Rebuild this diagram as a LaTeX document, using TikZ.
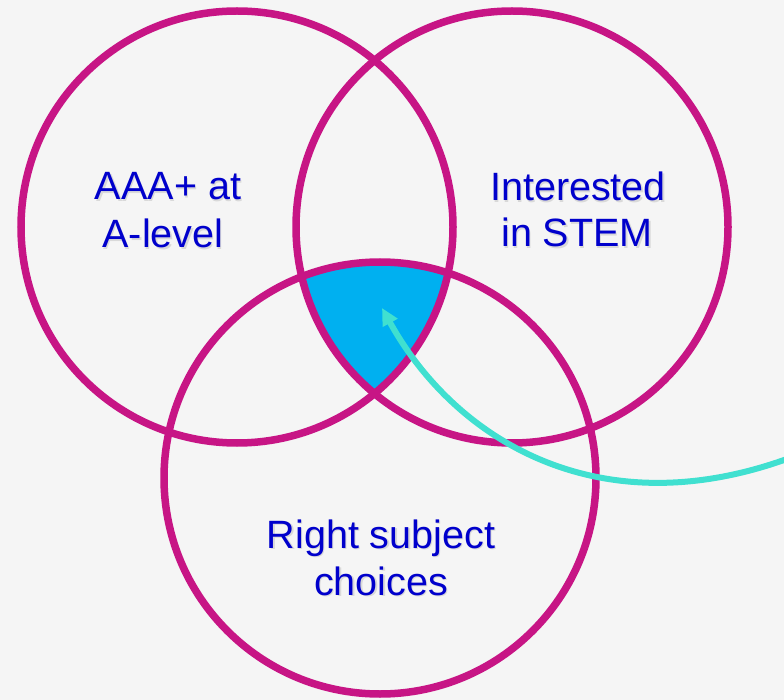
\documentclass[tikz,border=0pt]{standalone}
\usepackage{fontspec}
\setmainfont{Liberation Sans}
\usetikzlibrary{arrows.meta}
\definecolor{bgc}{RGB}{245,245,245}
\definecolor{ringc}{RGB}{199,21,133}
\definecolor{fillc}{RGB}{0,176,240}
\definecolor{textc}{RGB}{0,0,204}
\definecolor{arrc}{RGB}{64,224,208}
\tikzset{
  ring/.style={draw=ringc, line width=7.5pt},
  lbl/.style={anchor=base, text=textc, inner sep=0pt, font=\fontsize{39.5}{47}\selectfont},
  shd/.style={anchor=base, text=black!15, inner sep=0pt, font=\fontsize{39.5}{47}\selectfont},
  pointer/.style={draw=arrc, line width=6pt, -{Triangle[length=17pt,width=16pt]}}
}
\begin{document}
\begin{tikzpicture}[x=1pt,y=-1pt]
\useasboundingbox (0,0) rectangle (784,700);
\fill[bgc] (0,0) rectangle (784,700);
\coordinate (cl) at (237,227);
\coordinate (cr) at (512,227);
\coordinate (cb) at (380,478);
% triple intersection
\begin{scope}
  \clip (cl) circle[radius=216pt];
  \clip (cr) circle[radius=216pt];
  \fill[fillc] (cb) circle[radius=216pt];
\end{scope}
\draw[ring] (cl) circle[radius=216pt];
\draw[ring] (cr) circle[radius=216pt];
\draw[ring] (cb) circle[radius=216pt];
% labels (shadow + text)
\foreach \n/\x/\y/\t in {a1/168/200/{AAA+ at}, a2/163/248/{A-level}, b1/578/201/{Interested}, b2/577/247/{in STEM}, c1/381/548/{Right subject}, c2/381/595/{choices}}{
  \node[shd] (s\n) at (\x+1.3,\y+1.3) {\t};
  \node[lbl] (\n) at (\x,\y) {\t};
}
% arrow
\coordinate (as) at (795,456);
\coordinate (ae) at (382,308);
\draw[pointer] (as) .. controls (600,530) and (455,440) .. (ae);
\end{tikzpicture}
\end{document}
